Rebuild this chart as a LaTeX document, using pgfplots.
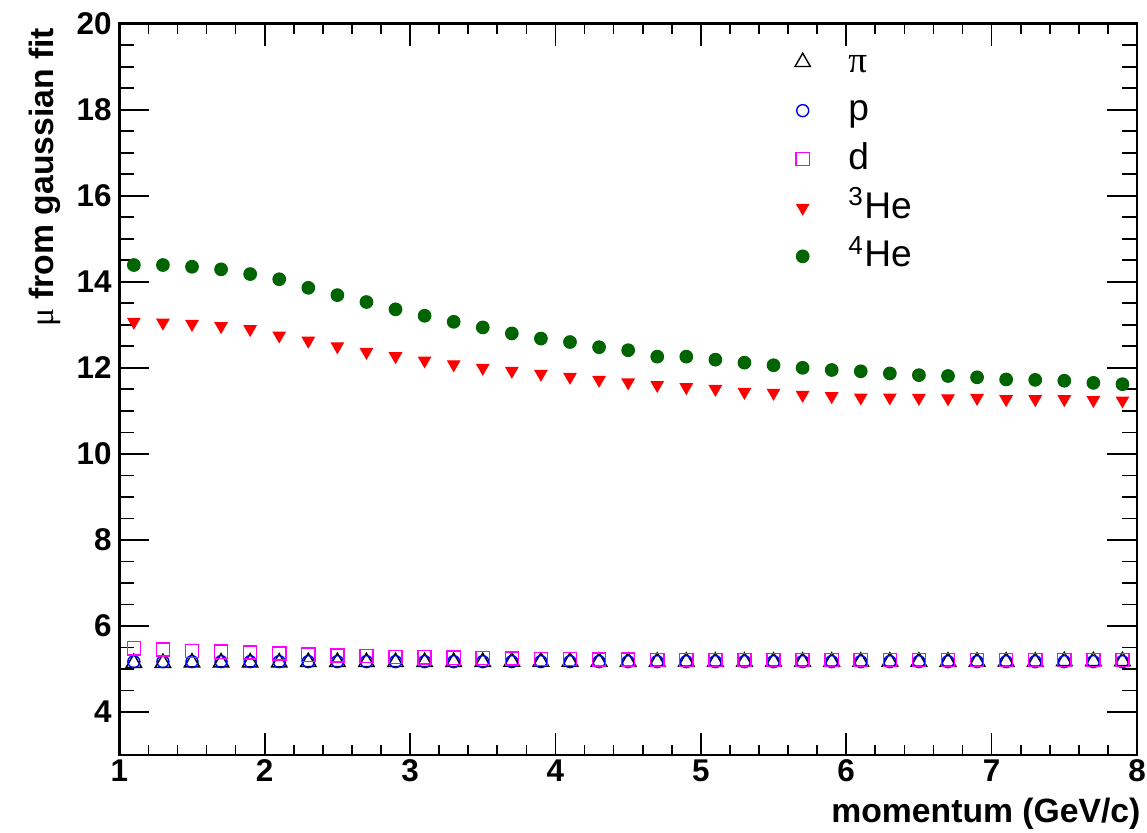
\documentclass[border=0pt]{standalone}
\usepackage{fontspec}
\setmainfont{Liberation Sans}
\newfontfamily\symf{Liberation Serif}
\usepackage{pgfplots}
\usepackage{pgfplotstable}
\pgfplotsset{compat=1.18}
\definecolor{rootgreen}{RGB}{0,100,0}
\definecolor{rootmag}{RGB}{255,0,255}

% mean of the gaussian fit vs momentum
\pgfplotstableread{
x   pi    p     d     he3   he4
1.1 5.14  5.17  5.48  13.07 14.39
1.3 5.14  5.17  5.45  13.05 14.39
1.5 5.15  5.17  5.42  13.02 14.35
1.7 5.15  5.17  5.40  12.97 14.29
1.9 5.15  5.17  5.38  12.90 14.18
2.1 5.15  5.17  5.36  12.75 14.06
2.3 5.16  5.17  5.33  12.63 13.86
2.5 5.16  5.17  5.31  12.50 13.69
2.7 5.16  5.17  5.30  12.37 13.53
2.9 5.16  5.17  5.28  12.27 13.36
3.1 5.16  5.17  5.27  12.17 13.21
3.3 5.16  5.17  5.26  12.08 13.07
3.5 5.16  5.17  5.25  12.00 12.94
3.7 5.17  5.17  5.24  11.93 12.80
3.9 5.17  5.17  5.23  11.86 12.68
4.1 5.17  5.17  5.23  11.79 12.60
4.3 5.17  5.17  5.22  11.72 12.48
4.5 5.17  5.17  5.22  11.66 12.41
4.7 5.17  5.17  5.21  11.60 12.26
4.9 5.17  5.17  5.21  11.55 12.26
5.1 5.17  5.17  5.21  11.51 12.19
5.3 5.17  5.17  5.21  11.44 12.12
5.5 5.17  5.17  5.21  11.42 12.06
5.7 5.17  5.17  5.21  11.37 12.00
5.9 5.17  5.17  5.21  11.34 11.95
6.1 5.17  5.17  5.21  11.31 11.92
6.3 5.17  5.17  5.21  11.31 11.87
6.5 5.17  5.17  5.21  11.30 11.83
6.7 5.17  5.17  5.21  11.29 11.81
6.9 5.17  5.17  5.21  11.30 11.78
7.1 5.17  5.17  5.21  11.27 11.73
7.3 5.17  5.17  5.21  11.27 11.72
7.5 5.18  5.17  5.21  11.27 11.70
7.7 5.18  5.17  5.21  11.25 11.65
7.9 5.18  5.17  5.21  11.24 11.62
}\mudata

\pgfplotsset{
  rootaxis/.style={
    width=356.2pt, height=255.95pt, scale only axis,
    xmin=1, xmax=8, ymin=3, ymax=20,
    axis line style={line width=1pt},
    tick style={line width=0.6pt, black},
    tick align=inside,
    /pgf/number format/assume math mode=true,
    ticklabel style={font=\bfseries\fontsize{11}{13}\selectfont},
  }
}

\begin{document}
\begin{tikzpicture}
% y ticks, data and legend
\begin{axis}[rootaxis, name=main,
    xtick=\empty,
    ytick={4,6,...,20}, minor y tick num=3,
    major tick length=10.5pt, minor tick length=5.2pt,
    yticklabel style={inner sep=2.5pt},
    ylabel={{\symf\mdseries μ} from gaussian fit},
    ylabel style={at={(axis description cs:-0.089,0.995)}, anchor=north east,
      inner sep=0pt, font=\bfseries\fontsize{11.8}{13}\selectfont},
    legend style={at={(axis description cs:0.655,0.987)}, anchor=north west,
      draw=none, fill=none, font=\fontsize{13}{15}\selectfont,
      row sep=1.2pt, nodes={inner sep=1pt, text height=10.5pt, text depth=3.3pt}},
    legend cell align=left,
    legend image code/.code={\draw[mark repeat=2,mark phase=2]
      plot coordinates {(0pt,0pt) (0pt,0pt) (0pt,0pt)};
      \path[draw=none, fill=none] (0pt,0pt) (15pt,0pt);},
  ]
  \addplot[only marks, mark=triangle, mark size=3.1pt, black, line width=0.5pt]
    table[x=x, y=pi] {\mudata};
  \addlegendentry{{\symf π}}
  \addplot[only marks, mark=o, mark size=2.1pt, blue, line width=0.5pt]
    table[x=x, y=p] {\mudata};
  \addlegendentry{p}
  \addplot[only marks, mark=square, mark size=2.3pt, rootmag, line width=0.5pt]
    table[x=x, y=d] {\mudata};
  \addlegendentry{d}
  \addplot[only marks, mark=triangle*, mark options={rotate=180}, mark size=2.4pt, red]
    table[x=x, y=he3] {\mudata};
  \addlegendentry{\textsuperscript{3}He}
  \addplot[only marks, mark=*, mark size=2.2pt, rootgreen]
    table[x=x, y=he4] {\mudata};
  \addlegendentry{\textsuperscript{4}He}
\end{axis}
% x ticks and title
\begin{axis}[rootaxis, at={(main.south west)}, anchor=south west,
    ytick=\empty,
    xtick={1,...,8}, minor x tick num=4,
    major tick length=7.7pt, minor tick length=3.5pt,
    xticklabel style={inner sep=1.5pt},
    xlabel={momentum (GeV/c)},
    xlabel style={at={(axis description cs:1.004,-0.092)}, anchor=base east,
      inner sep=0pt, font=\bfseries\fontsize{11.8}{13}\selectfont},
  ]
\end{axis}
\pgfresetboundingbox
\path ([shift={(-41.76pt,-27.3pt)}]main.south west) rectangle ([shift={(3.5pt,8.3pt)}]main.north east);
\end{tikzpicture}
\end{document}
